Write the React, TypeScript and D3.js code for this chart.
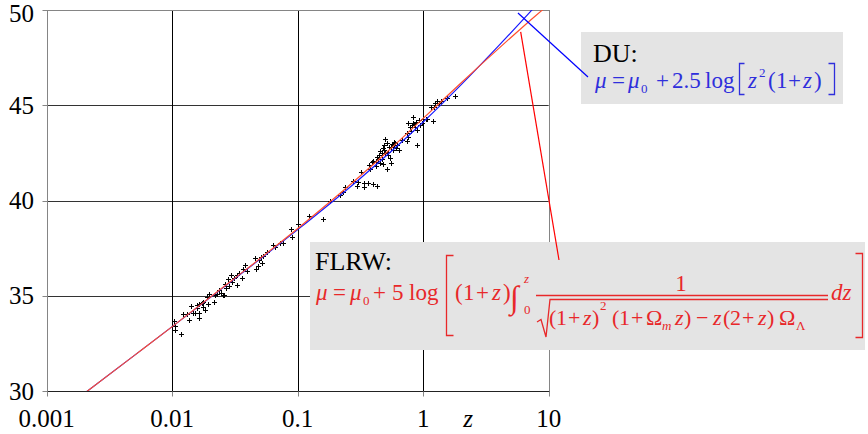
import * as d3 from "d3";

// axis ticks
const zTicks = [0.001, 0.01, 0.1, 1, 10];
const zTickLabels = ["0.001", "0.01", "0.1", "1", "10"];
const muTicks = [30, 35, 40, 45, 50];

// supernova points (z, distance modulus)
const snZ = [
  0.0103, 0.0105, 0.0105, 0.0117, 0.0123, 0.01305, 0.0137, 0.0142, 0.01456, 0.0152,
  0.01567, 0.01585, 0.01644, 0.0165, 0.0165, 0.0172, 0.01752, 0.01773, 0.01828, 0.01887,
  0.0194, 0.0198, 0.02165, 0.02193, 0.02262, 0.02373, 0.02449, 0.02526, 0.026, 0.02635,
  0.02684, 0.028, 0.02836, 0.02925, 0.0298, 0.03108, 0.03266, 0.03304, 0.03428, 0.03581,
  0.03648, 0.038, 0.03926, 0.0457, 0.04628, 0.04853, 0.04943, 0.05101, 0.05195, 0.05321,
  0.05662, 0.06324, 0.06592, 0.07228, 0.0759, 0.0884, 0.0896, 0.1012, 0.1231,
  0.16, 0.1809, 0.2173, 0.2309, 0.2382, 0.2773, 0.304, 0.3375, 0.3395, 0.4003,
  0.4262, 0.3177, 0.3767, 0.372, 0.3888, 0.4, 0.4207, 0.4385, 0.4527, 0.4469,
  0.467, 0.4757, 0.4872, 0.4962, 0.512, 0.5272, 0.537, 0.5508, 0.561, 0.5778,
  0.5852, 0.6071, 0.6217, 0.645, 0.512, 0.481, 0.5438, 0.674, 0.7389, 0.7611,
  0.785, 0.81, 0.8249, 0.8449, 0.8606, 0.8764, 0.8977, 0.8878, 0.931, 0.943,
  0.9727, 0.9908, 1.066, 1.2035, 1.1475, 1.2417, 1.295, 1.344, 1.379, 1.539,
  1.792, 0.795, 0.7611, 0.834, 0.7389, 1.047, 1.226, 0.2969, 0.3633,
  0.43, 0.45, 0.47, 0.49, 0.52, 0.55, 0.58, 0.6, 0.42, 0.5,
];
const snMu = [
  33.69, 33.41, 33.2, 32.99, 34.03, 34.03, 33.73, 34.46, 34.11, 34.11,
  34.51, 34.34, 34.57, 34.11, 33.83, 34.64, 34.43, 34.69, 34.25, 34.95,
  34.57, 35.09, 34.69, 35.04, 35.09, 35.3, 35.13, 35.04, 35.04, 35.62,
  35.39, 35.86, 35.51, 36.09, 35.74, 35.92, 35.56, 36.09, 36.18, 35.92,
  36.39, 36.61, 36.31, 36.97, 36.39, 36.56, 36.88, 37.02, 36.7, 37.09,
  37.31, 37.66, 37.57, 37.75, 37.75, 38.49, 38.07, 38.77, 39.19,
  39.04, 39.97, 40.3, 40.46, 40.69, 41.04, 40.99, 40.93, 40.69, 40.87,
  40.76, 41.51, 41.64, 41.86, 42.04, 42.09, 42.04, 42.16, 41.95, 42.39,
  42.51, 42.74, 42.65, 43.21, 43.0, 42.56, 42.82, 41.98, 42.97, 42.65,
  43.09, 42.74, 42.91, 42.65, 41.64, 41.92, 42.22, 43.18, 43.14, 43.35,
  43.87, 43.96, 44.08, 44.02, 43.87, 44.14, 43.7, 42.91, 44.23, 43.96,
  44.05, 44.26, 44.26, 44.19, 44.92, 45.13, 45.24, 45.13, 45.24, 45.36,
  45.49, 43.66, 44.08, 44.4, 43.53, 44.26, 44.89, 40.76, 40.92,
  42.3, 42.6, 42.2, 42.9, 42.4, 42.8, 42.9, 43.0, 41.8, 42.5,
];

// DU model curve
const duZ = [0.002, 0.005, 0.01, 0.03, 0.1, 0.3, 1, 2, 4, 7, 10];
const duMu = [29.88, 31.87, 33.38, 35.79, 38.47, 41.04, 44.12, 46.07, 48.13, 49.85, 50.97];

// FLRW model curve
const flrwZ = [0.002, 0.005, 0.01, 0.03, 0.1, 0.3, 0.5, 1, 2, 3, 5, 7, 9, 10];
const flrwMu = [29.88, 31.87, 33.38, 35.81, 38.53, 41.17, 42.47, 44.31, 46.17, 47.24, 48.56, 49.41, 50.03, 50.3];

const serif = "'Liberation Serif', 'Times New Roman', serif";
const blueTxt = "#2f2fdc";
const redTxt = "#e8282a";

type Piece = { t: string; x: number; y?: number; it?: boolean; fs?: number; anchor?: string };

// DU formula pieces
const duPieces: Piece[] = [
  { t: "μ", x: 595, it: true },
  { t: "=", x: 612 },
  { t: "μ", x: 628, it: true },
  { t: "0", x: 641, y: 93, fs: 13 },
  { t: "+", x: 656 },
  { t: "2.5", x: 672 },
  { t: "log", x: 705 },
  { t: "z", x: 748, it: true },
  { t: "2", x: 759, y: 77, fs: 13 },
  { t: "(", x: 768 },
  { t: "1", x: 776 },
  { t: "+", x: 788 },
  { t: "z", x: 803, it: true },
  { t: ")", x: 814 },
];

// FLRW formula pieces (main line, then denominator)
const flrwPieces: Piece[] = [
  { t: "μ", x: 316, it: true },
  { t: "=", x: 333 },
  { t: "μ", x: 350, it: true },
  { t: "0", x: 363, y: 305, fs: 13 },
  { t: "+", x: 373 },
  { t: "5", x: 392 },
  { t: "log", x: 409 },
  { t: "(", x: 455 },
  { t: "1", x: 463 },
  { t: "+", x: 476 },
  { t: "z", x: 492, it: true },
  { t: ")", x: 503 },
  { t: "∫", x: 510, y: 308, fs: 32 },
  { t: "z", x: 524, y: 283, fs: 13, it: true },
  { t: "0", x: 524, y: 314, fs: 13 },
  { t: "1", x: 681, y: 291, anchor: "middle" },
  { t: "dz", x: 831, it: true },
];
const denomPieces: Piece[] = [
  { t: "(", x: 549 },
  { t: "1", x: 556 },
  { t: "+", x: 568 },
  { t: "z", x: 583, it: true },
  { t: ")", x: 592 },
  { t: "2", x: 600, y: 310, fs: 13 },
  { t: "(", x: 612 },
  { t: "1", x: 619 },
  { t: "+", x: 631 },
  { t: "Ω", x: 646 },
  { t: "m", x: 662, y: 330, fs: 13, it: true },
  { t: "z", x: 675, it: true },
  { t: ")", x: 684 },
  { t: "−", x: 696 },
  { t: "z", x: 713, it: true },
  { t: "(", x: 723 },
  { t: "2", x: 730 },
  { t: "+", x: 742 },
  { t: "z", x: 758, it: true },
  { t: ")", x: 767 },
  { t: "Ω", x: 779 },
  { t: "Λ", x: 796, y: 330, fs: 13 },
];

function Formula({ pieces, base, fill, size }: { pieces: Piece[]; base: number; fill: string; size: number }) {
  return (
    <g fill={fill} fontFamily={serif}>
      {pieces.map((p, i) => (
        <text
          key={i}
          x={p.x}
          y={p.y ?? base}
          fontStyle={p.it ? "italic" : "normal"}
          fontSize={p.fs ?? size}
          textAnchor={p.anchor ?? "start"}
        >
          {p.t}
        </text>
      ))}
    </g>
  );
}

export default function App() {
  const width = 868;
  const height = 434;
  const x0 = 46.7, x1 = 548.7, yTop = 10, yBot = 391;
  const x = d3.scaleLog([0.001, 10], [x0, x1]);
  const y = d3.scaleLinear([30, 50], [yBot, yTop]);
  const px = (v: number) => Math.round(x(v)) + 0.5;
  const py = (v: number) => Math.round(y(v)) + 0.5;

  const line = d3
    .line<number>()
    .x((d) => x(d))
    .curve(d3.curveMonotoneX);
  const duPath = line.y((d, i) => y(duMu[i]))(duZ);
  const flrwPath = line.y((d, i) => y(flrwMu[i]))(flrwZ);

  // callout anchors (on the curves)
  const duAnchor = [x(5.69), y(49.84)];
  const flrwAnchor = [x(5.98), y(48.85)];

  return (
    <svg width={width} height={height} style={{ position: "absolute", left: 0, top: 0, background: "#fff" }}>
      <defs>
        <clipPath id="plot">
          <rect x={x0} y={yTop} width={x1 - x0} height={yBot - yTop} />
        </clipPath>
      </defs>

      {/* grid */}
      {muTicks.slice(1, -1).map((m) => (
        <line key={m} x1={x0} x2={x1} y1={py(m)} y2={py(m)} stroke="#333" />
      ))}
      {zTicks.slice(1, -1).map((z) => (
        <line key={z} x1={px(z)} x2={px(z)} y1={yTop} y2={yBot} stroke="#000" />
      ))}
      <rect
        x={px(0.001)}
        y={py(50)}
        width={px(10) - px(0.001)}
        height={py(30) - py(50)}
        fill="none"
        stroke="#858585"
      />
      <line x1={px(0.001)} x2={px(10)} y1={py(30)} y2={py(30)} stroke="#222" />

      {/* ticks */}
      {zTicks.map((z) => (
        <line key={z} x1={px(z)} x2={px(z)} y1={py(30)} y2={py(30) + 5} stroke="#858585" />
      ))}
      {muTicks.map((m) => (
        <line key={m} x1={px(0.001) - 5} x2={px(0.001)} y1={py(m)} y2={py(m)} stroke="#858585" />
      ))}

      {/* tick labels */}
      <g fontFamily={serif} fontSize={25} fill="#000">
        {zTicks.map((z, i) => (
          <text key={z} x={x(z)} y={427} textAnchor="middle">
            {zTickLabels[i]}
          </text>
        ))}
        {muTicks.map((m) => (
          <text key={m} x={34} y={Math.max(y(m) + 8.5, 22)} textAnchor="end">
            {m}
          </text>
        ))}
        <text x={468} y={427} fontStyle="italic" textAnchor="middle">
          z
        </text>
      </g>

      {/* data points */}
      <g stroke="#000" strokeWidth={1}>
        {snZ.map((z, i) => (
          <path key={i} d="M-2.5,0H2.5M0,-2.5V2.5" transform={`translate(${px(z)},${py(snMu[i])})`} />
        ))}
      </g>

      {/* model curves */}
      <g clipPath="url(#plot)" fill="none" strokeWidth={1.2}>
        <path d={duPath ?? ""} stroke="#1a1aff" />
        <path d={flrwPath ?? ""} stroke="#ff5030" />
      </g>

      {/* DU box */}
      <rect x={581} y={32} width={262} height={72} fill="#e4e4e4" />
      <text x={593} y={62} fontFamily={serif} fontSize={26} fill="#000">
        DU:
      </text>
      <Formula pieces={duPieces} base={88} fill={blueTxt} size={23} />
      <g fill="none" stroke={blueTxt} strokeWidth={1.3}>
        <path d="M744.5,63.5H739.5V94.5H744.5" />
        <path d="M828.5,63.5H834.5V94.5H828.5" />
      </g>

      {/* FLRW box */}
      <rect x={310} y={242} width={555} height={108} fill="#e4e4e4" />
      <text x={315} y={270} fontFamily={serif} fontSize={26} fill="#000">
        FLRW:
      </text>
      <Formula pieces={flrwPieces} base={300} fill={redTxt} size={23} />
      <Formula pieces={denomPieces} base={325} fill={redTxt} size={22} />
      <g fill="none" stroke={redTxt} strokeWidth={1.3}>
        <path d="M453.5,255.5H446.5V335.5H453.5" />
        <path d="M855.5,253.5H862.5V337.5H855.5" />
        <line x1={536} x2={828} y1={295.5} y2={295.5} />
        <path d="M537,322 L541,319.5 L546,337 L550,299.5 H828" />
      </g>

      {/* callouts */}
      <line x1={duAnchor[0]} y1={duAnchor[1]} x2={588} y2={77} stroke="#0000ff" strokeWidth={1.2} />
      <line x1={flrwAnchor[0]} y1={flrwAnchor[1]} x2={559} y2={260} stroke="#ff0000" strokeWidth={1.2} />
    </svg>
  );
}
